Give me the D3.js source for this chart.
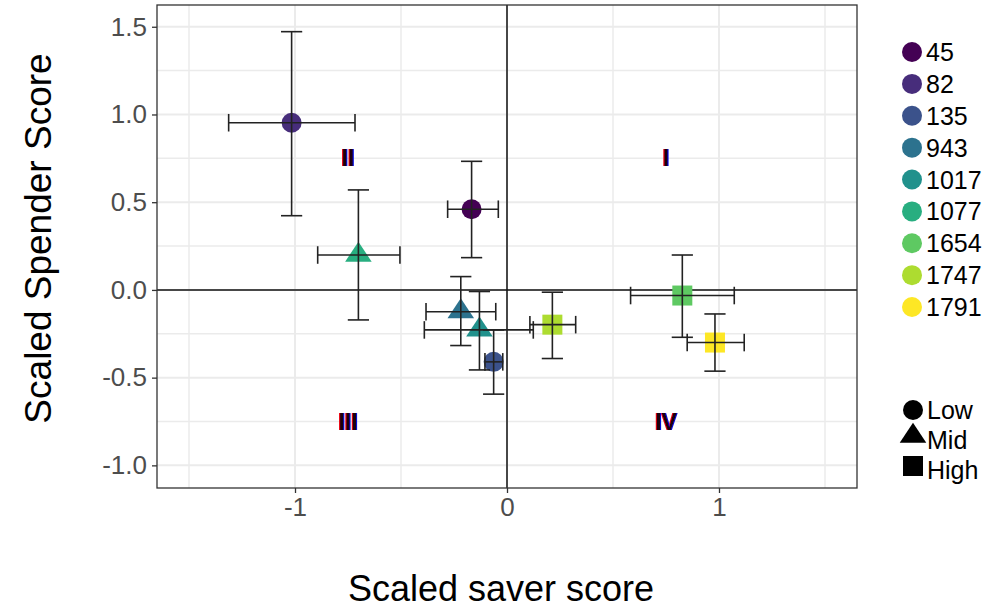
<!DOCTYPE html>
<html>
<head>
<meta charset="utf-8">
<script src="https://cdn.jsdelivr.net/npm/d3@7"></script>
<style>
  html, body { margin: 0; padding: 0; background: #fff; }
  svg { display: block; font-family: "Liberation Sans", Arial, sans-serif; }
</style>
</head>
<body>
<svg id="chart" width="994" height="615"></svg>
<script>
// Participant IDs, their saver/spender group and scaled scores with error ranges
const ids       = ["45", "82", "135", "943", "1017", "1077", "1654", "1747", "1791"];
const groups    = ["Low", "Low", "Low", "Mid", "Mid", "Mid", "High", "High", "High"];
const saver     = [-0.167, -1.016, -0.063, -0.218, -0.130, -0.701, 0.827, 0.214, 0.981];
const saverLo   = [-0.280, -1.313, -0.104, -0.382, -0.390, -0.893, 0.583, 0.108, 0.850];
const saverHi   = [-0.041, -0.717, -0.020, -0.053, 0.124, -0.505, 1.072, 0.324, 1.119];
const spender   = [0.460, 0.953, -0.410, -0.124, -0.228, 0.199, -0.032, -0.198, -0.300];
const spenderLo = [0.184, 0.423, -0.594, -0.317, -0.456, -0.171, -0.270, -0.391, -0.463];
const spenderHi = [0.733, 1.472, -0.228, 0.076, -0.009, 0.570, 0.199, -0.013, -0.137];

const groupLevels = ["Low", "Mid", "High"];
const xTicks = [-1, 0, 1];
const xMinor = [-1.5, -0.5, 0.5, 1.5];
const yTicks = [-1.0, -0.5, 0.0, 0.5, 1.0, 1.5];
const yMinor = [-0.75, -0.25, 0.25, 0.75, 1.25];
const quadrants = [
  { label: "I",   x: 0.75,  y: 0.75 },
  { label: "II",  x: -0.75, y: 0.75 },
  { label: "III", x: -0.75, y: -0.75 },
  { label: "IV",  x: 0.75,  y: -0.75 }
];

const data = ids.map((id, i) => ({
  id, group: groups[i],
  x: saver[i], xlo: saverLo[i], xhi: saverHi[i],
  y: spender[i], ylo: spenderLo[i], yhi: spenderHi[i]
}));

const svg = d3.select("#chart");
const panel = { left: 157, right: 857, top: 5, bottom: 488 };

const x = d3.scaleLinear().domain([-1.651, 1.651]).range([panel.left, panel.right]);
const y = d3.scaleLinear().domain([-1.129, 1.624]).range([panel.bottom, panel.top]);

const color = d3.scaleOrdinal()
  .domain(ids)
  .range(ids.map((d, i) => d3.interpolateViridis(i / (ids.length - 1))));

// Marker shapes per group: filled circle, triangle, square
function shapePath(group, s) {
  if (group === "Low") return d3.symbol(d3.symbolCircle, Math.PI * s * s)();
  if (group === "Mid") {
    const h = s * 2, k = h / 3, w = h / Math.sqrt(3) * 1.15;
    return `M0,${-2 * k}L${w},${k}L${-w},${k}Z`;
  }
  return `M${-s},${-s}H${s}V${s}H${-s}Z`;
}

// Red/blue colour fringe used for the quadrant numerals
const defs = svg.append("defs");
const fr = defs.append("filter").attr("id", "fringe")
  .attr("x", "-30%").attr("y", "-10%").attr("width", "160%").attr("height", "120%");
fr.append("feOffset").attr("in", "SourceAlpha").attr("dx", -1.3).attr("result", "l");
fr.append("feFlood").attr("flood-color", "#e8000b").attr("result", "rc");
fr.append("feComposite").attr("in", "rc").attr("in2", "l").attr("operator", "in").attr("result", "red");
fr.append("feOffset").attr("in", "SourceAlpha").attr("dx", 1.3).attr("result", "r");
fr.append("feFlood").attr("flood-color", "#0010e0").attr("result", "bc");
fr.append("feComposite").attr("in", "bc").attr("in2", "r").attr("operator", "in").attr("result", "blue");
const fm = fr.append("feMerge");
fm.append("feMergeNode").attr("in", "red");
fm.append("feMergeNode").attr("in", "blue");
fm.append("feMergeNode").attr("in", "SourceGraphic");

// Grid
const grid = svg.append("g");
grid.selectAll(".vmin").data(xMinor).join("line")
  .attr("x1", d => x(d)).attr("x2", d => x(d))
  .attr("y1", panel.top).attr("y2", panel.bottom)
  .attr("stroke", "#EBEBEB").attr("stroke-width", 1.5);
grid.selectAll(".hmin").data(yMinor).join("line")
  .attr("y1", d => y(d)).attr("y2", d => y(d))
  .attr("x1", panel.left).attr("x2", panel.right)
  .attr("stroke", "#EBEBEB").attr("stroke-width", 1.5);
grid.selectAll(".vmaj").data(xTicks).join("line")
  .attr("x1", d => x(d)).attr("x2", d => x(d))
  .attr("y1", panel.top).attr("y2", panel.bottom)
  .attr("stroke", "#EBEBEB").attr("stroke-width", 2);
grid.selectAll(".hmaj").data(yTicks).join("line")
  .attr("y1", d => y(d)).attr("y2", d => y(d))
  .attr("x1", panel.left).attr("x2", panel.right)
  .attr("stroke", "#EBEBEB").attr("stroke-width", 2);

// Zero reference lines
svg.append("line")
  .attr("x1", x(0)).attr("x2", x(0)).attr("y1", panel.top).attr("y2", panel.bottom)
  .attr("stroke", "#111").attr("stroke-width", 1.5);
svg.append("line")
  .attr("y1", y(0)).attr("y2", y(0)).attr("x1", panel.left).attr("x2", panel.right)
  .attr("stroke", "#111").attr("stroke-width", 1.5);

// Quadrant labels
svg.append("g")
  .attr("font-weight", "bold").attr("font-size", 23)
  .attr("text-anchor", "middle").attr("dominant-baseline", "central")
  .attr("filter", "url(#fringe)")
  .selectAll("text").data(quadrants).join("text")
  .attr("x", d => x(d.x)).attr("y", d => y(d.y))
  .attr("fill", "#1a0010").text(d => d.label);

// Points
svg.append("g").selectAll("path").data(data).join("path")
  .attr("transform", d => `translate(${x(d.x)},${y(d.y)})`)
  .attr("d", d => shapePath(d.group, 10))
  .attr("fill", d => color(d.id));

// Error bars (vertical and horizontal) with caps
const capX = 0.05, capY = 0.05;
const eb = svg.append("g").attr("stroke", "#222").attr("stroke-width", 1.6).attr("fill", "none");
data.forEach(d => {
  eb.append("line").attr("x1", x(d.x)).attr("x2", x(d.x)).attr("y1", y(d.ylo)).attr("y2", y(d.yhi));
  eb.append("line").attr("x1", x(d.x - capX)).attr("x2", x(d.x + capX)).attr("y1", y(d.ylo)).attr("y2", y(d.ylo));
  eb.append("line").attr("x1", x(d.x - capX)).attr("x2", x(d.x + capX)).attr("y1", y(d.yhi)).attr("y2", y(d.yhi));
  eb.append("line").attr("y1", y(d.y)).attr("y2", y(d.y)).attr("x1", x(d.xlo)).attr("x2", x(d.xhi));
  eb.append("line").attr("y1", y(d.y - capY)).attr("y2", y(d.y + capY)).attr("x1", x(d.xlo)).attr("x2", x(d.xlo));
  eb.append("line").attr("y1", y(d.y - capY)).attr("y2", y(d.y + capY)).attr("x1", x(d.xhi)).attr("x2", x(d.xhi));
});

// Panel border
svg.append("rect")
  .attr("x", panel.left).attr("y", panel.top)
  .attr("width", panel.right - panel.left).attr("height", panel.bottom - panel.top)
  .attr("fill", "none").attr("stroke", "#333").attr("stroke-width", 1.3);

// Axes
const xAxis = svg.append("g").attr("transform", `translate(0,${panel.bottom})`)
  .call(d3.axisBottom(x).tickValues(xTicks).tickSize(5).tickPadding(5).tickFormat(d => d3.format("d")(d).replace("−", "-")));
const yAxis = svg.append("g").attr("transform", `translate(${panel.left},0)`)
  .call(d3.axisLeft(y).tickValues(yTicks).tickSize(5).tickPadding(5).tickFormat(d => d3.format(".1f")(d).replace("−", "-")));
[xAxis, yAxis].forEach(a => {
  a.select(".domain").remove();
  a.selectAll(".tick line").attr("stroke", "#333").attr("stroke-width", 1.3);
  a.selectAll(".tick text").attr("fill", "#4D4D4D").attr("font-size", 26)
    .attr("font-family", "Liberation Sans, Arial, sans-serif");
});

// Axis titles
svg.append("text")
  .attr("x", x(0) - 6).attr("y", 601)
  .attr("text-anchor", "middle").attr("font-size", 36).attr("fill", "#000")
  .text("Scaled saver score");
svg.append("text")
  .attr("transform", `translate(51,${(panel.top + panel.bottom) / 2 - 8}) rotate(-90)`)
  .attr("text-anchor", "middle").attr("font-size", 37).attr("fill", "#000")
  .text("Scaled Spender Score");

// Colour legend
const leg = svg.append("g").attr("font-size", 25);
const legRow = d3.scalePoint().domain(ids).range([52, 307]);
leg.selectAll("circle").data(ids).join("circle")
  .attr("cx", 912).attr("cy", d => legRow(d)).attr("r", 10)
  .attr("fill", d => color(d));
leg.selectAll("text").data(ids).join("text")
  .attr("x", 926).attr("y", d => legRow(d)).attr("dominant-baseline", "central")
  .attr("fill", "#000").text(d => d);

// Shape legend
const shapeRow = d3.scalePoint().domain(groupLevels).range([410, 470]);
const sl = svg.append("g").attr("font-size", 25);
sl.selectAll("path").data(groupLevels).join("path")
  .attr("transform", d => `translate(913,${shapeRow(d) - (d === "Low" ? 0 : 4)})`)
  .attr("d", d => shapePath(d, 10))
  .attr("fill", "#000");
sl.selectAll("text").data(groupLevels).join("text")
  .attr("x", 927).attr("y", d => shapeRow(d)).attr("dominant-baseline", "central")
  .attr("fill", "#000").text(d => d);
</script>
</body>
</html>
